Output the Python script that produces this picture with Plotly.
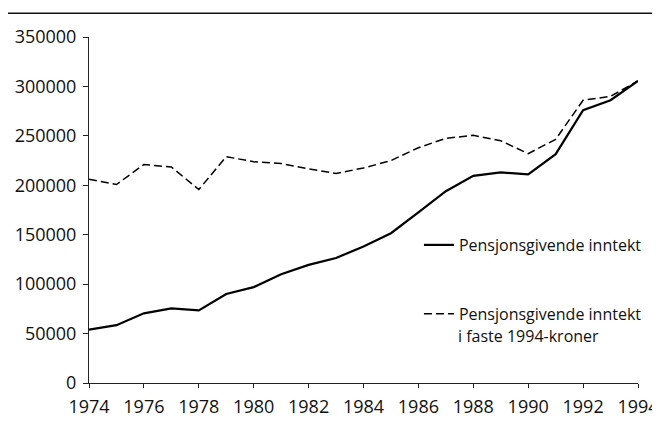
import plotly.graph_objects as go

years = list(range(1974, 1995))
nominal = [54000, 58500, 70500, 75500, 73500, 90000, 97000, 110000, 119500, 126500,
           138000, 151500, 172500, 194000, 209500, 213000, 211000, 231500, 276000, 286000, 305500]
real_1994 = [206000, 200800, 221000, 218500, 195700, 229000, 223800, 222000, 216700, 212000,
             217500, 225000, 238000, 247500, 250500, 245000, 232000, 246500, 286000, 290000, 305500]
name_nominal = "Pensjonsgivende inntekt"
name_real = "Pensjonsgivende inntekt"
name_real_line2 = "i faste 1994-kroner"
y_ticks = [0, 50000, 100000, 150000, 200000, 250000, 300000, 350000]
x_ticks = list(range(1974, 1995, 2))

font_family = "Open Sans, Noto Sans, sans-serif"

fig = go.Figure()
fig.add_trace(go.Scatter(x=years, y=nominal, mode="lines", name=name_nominal,
                         line=dict(color="black", width=2.2), legendgroup="a"))
fig.add_trace(go.Scatter(x=years, y=real_1994, mode="lines", name=name_real,
                         line=dict(color="black", width=1.5, dash="8px,4px"), legendgroup="b"))

# page has an 8px body margin, so the figure is sized to fill the rest of the window
fig.update_layout(
    width=652, height=413,
    margin=dict(l=81, r=22, t=29, b=38, autoexpand=False),
    paper_bgcolor="white", plot_bgcolor="white",
    font=dict(family=font_family, size=18, color="#111"),
    showlegend=True,
    legend=dict(x=0.601, y=0.448, xanchor="left", yanchor="top",
                bgcolor="rgba(0,0,0,0)", tracegroupgap=45,
                font=dict(size=16, color="#111"), itemwidth=30),
    xaxis=dict(range=[1974, 1994], tickmode="array", tickvals=x_ticks,
               ticktext=[str(v) for v in x_ticks], automargin=False,
               showgrid=False, zeroline=False, showline=True, linecolor="#222", linewidth=1,
               ticks="outside", ticklen=4, tickcolor="#222", tickfont=dict(size=18),
               ticklabelstandoff=3),
    yaxis=dict(range=[0, 350000], tickmode="array", tickvals=y_ticks,
               ticktext=[str(v) for v in y_ticks], automargin=False,
               showgrid=False, zeroline=False, showline=True, linecolor="#222", linewidth=1,
               ticks="outside", ticklen=5, tickcolor="#222", tickfont=dict(size=18),
               ticklabelstandoff=3),
    shapes=[dict(type="line", xref="paper", yref="paper", x0=-0.148, x1=1.031,
                 y0=1.069, y1=1.069, line=dict(color="#111", width=1.5))],
    annotations=[dict(text=name_real_line2, xref="paper", yref="paper",
                      x=0.668, y=0.136, xanchor="left", yanchor="middle",
                      showarrow=False, font=dict(size=16, color="#111"))],
)

fig.write_html("out.html")
